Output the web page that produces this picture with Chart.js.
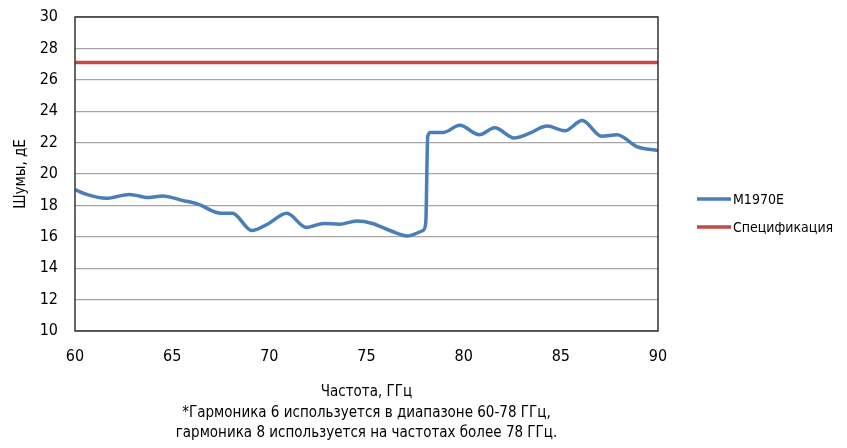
<!DOCTYPE html>
<html>
<head>
<meta charset="utf-8">
<script src="https://cdn.jsdelivr.net/npm/chart.js@4/dist/chart.umd.min.js"></script>
<style>
  html, body { margin: 0; padding: 0; background: #fff; }
  #wrap { position: relative; width: 847px; height: 448px; }
</style>
</head>
<body>
<div id="wrap"><canvas id="chart" width="847" height="448"></canvas></div>
<script>
const FONT = "'Liberation Sans Narrow', 'DejaVu Sans Condensed', 'Liberation Sans', sans-serif";

// frequency, GHz
const freqs = [60, 60.6, 61.6, 62.8, 63.8, 64.5, 65.6, 66.3, 67.5, 68.1, 69.1, 69.9, 70.9, 71.9,
  72.8, 73.6, 74.5, 75.3, 76.2, 77.1, 77.9, 78.05, 78.15, 78.3, 78.95, 79.8, 80.8, 81.6,
  82.6, 83.4, 84.3, 85.2, 86.1, 87.1, 87.9, 88.9, 90];
const noiseM1970E = [19.0, 18.7, 18.45, 18.7, 18.5, 18.6, 18.3, 18.1, 17.5, 17.5, 16.4, 16.8, 17.5, 16.6,
  16.85, 16.8, 17.0, 16.85, 16.4, 16.05, 16.4, 16.9, 22.4, 22.65, 22.65, 23.1, 22.5, 22.95,
  22.3, 22.6, 23.05, 22.75, 23.4, 22.4, 22.5, 21.75, 21.5];
const specLimit = 27.1;

const seriesNames = ["M1970E", "Спецификация"];
const seriesColors = ["#4a7ebb", "#be4b48"];

const yTitle = "Шумы, дЕ";
const xTitle = "Частота, ГГц";
const footnote = [
  "*Гармоника 6 используется в диапазоне 60-78 ГГц,",
  "гармоника 8 используется на частотах более 78 ГГц."
];

const plotFrame = {
  id: "plotFrame",
  afterDraw(chart) {
    const { ctx, chartArea: a } = chart;
    ctx.save();
    ctx.strokeStyle = "#333";
    ctx.lineWidth = 1.5;
    ctx.strokeRect(a.left, a.top, a.right - a.left, a.bottom - a.top);

    // legend
    ctx.font = "14px " + FONT;
    ctx.textBaseline = "middle";
    ctx.textAlign = "left";
    chart.data.datasets.forEach((ds, i) => {
      const y = 199 + i * 28;
      ctx.strokeStyle = ds.borderColor;
      ctx.lineWidth = 3.5;
      ctx.beginPath();
      ctx.moveTo(697, y);
      ctx.lineTo(731, y);
      ctx.stroke();
      ctx.fillStyle = "#000";
      ctx.fillText(ds.label, 733, y + 1);
    });

    // footnote
    ctx.font = "15px " + FONT;
    ctx.textAlign = "center";
    const cx = (a.left + a.right) / 2;
    footnote.forEach((t, i) => ctx.fillText(t, cx, 413 + i * 20));
    ctx.restore();
  }
};

new Chart(document.getElementById("chart"), {
  type: "line",
  data: {
    datasets: [
      {
        label: seriesNames[0],
        data: freqs.map((f, i) => ({ x: f, y: noiseM1970E[i] })),
        borderColor: seriesColors[0],
        borderWidth: 3.5,
        pointRadius: 0,
        cubicInterpolationMode: "monotone"
      },
      {
        label: seriesNames[1],
        data: [{ x: 60, y: specLimit }, { x: 90, y: specLimit }],
        borderColor: seriesColors[1],
        borderWidth: 3.5,
        pointRadius: 0
      }
    ]
  },
  options: {
    responsive: false,
    animation: false,
    layout: { padding: { left: 0, top: 17, right: 189, bottom: 0 } },
    plugins: { legend: { display: false }, tooltip: { enabled: false } },
    scales: {
      x: {
        type: "linear",
        min: 60,
        max: 90,
        afterFit: s => { s.height = 117; s.paddingLeft = 0; s.paddingRight = 0; },
        ticks: { stepSize: 5, padding: 16, color: "#000", font: { family: FONT, size: 16 } },
        grid: { display: false, drawTicks: false },
        border: { display: false },
        title: { display: true, text: xTitle, color: "#000", font: { family: FONT, size: 15 }, padding: { top: 0, bottom: 47 } }
      },
      y: {
        min: 10,
        max: 30,
        afterFit: s => { s.width = 75; s.paddingTop = 0; s.paddingBottom = 0; },
        ticks: { stepSize: 2, padding: 17, color: "#000", font: { family: FONT, size: 16 } },
        grid: { color: "#a6a6a6", lineWidth: 1.2, drawTicks: false },
        border: { display: false },
        title: { display: true, text: yTitle, color: "#000", font: { family: FONT, size: 15 }, padding: { top: 12.6, bottom: 0 } }
      }
    }
  },
  plugins: [plotFrame]
});
</script>
</body>
</html>
